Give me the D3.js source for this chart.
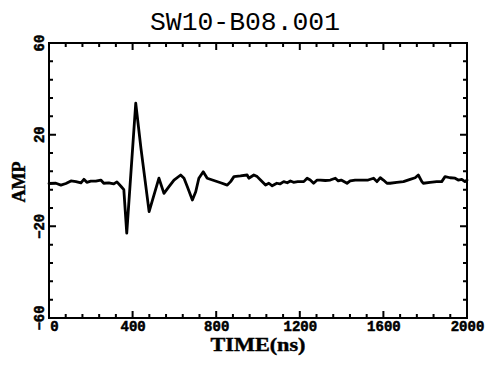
<!DOCTYPE html>
<html>
<head>
<meta charset="utf-8">
<script src="https://cdn.jsdelivr.net/npm/d3@7/dist/d3.min.js"></script>
<style>
  html, body { margin: 0; padding: 0; background: #fff; }
  svg { display: block; }
</style>
</head>
<body>
<svg id="chart" width="489" height="365" xmlns="http://www.w3.org/2000/svg"></svg>
<script>
// ---- data ----
const titleText = "SW10-B08.001";
const xLabel = "TIME(ns)";
const yLabel = "AMP";
const xMajorTicks = [0, 400, 800, 1200, 1600, 2000];
const yMajorTicks = [-60, -20, 20, 60];
const timeNs = [0, 33, 57, 81, 105, 129, 153, 167, 181, 200, 224, 248, 262, 286, 310, 325, 344, 358,
  372, 415, 440, 479, 526, 550, 574, 598, 630, 646, 662, 686, 702, 717, 738, 757, 789, 821, 853, 869,
  885, 916, 948, 956, 980, 996, 1012, 1036, 1052, 1068, 1090, 1105, 1123, 1140, 1155, 1170, 1190,
  1219, 1235, 1250, 1266, 1283, 1298, 1322, 1346, 1370, 1384, 1398, 1426, 1441, 1465, 1489, 1513,
  1527, 1553, 1569, 1585, 1600, 1617, 1632, 1664, 1696, 1728, 1752, 1767, 1784, 1791, 1823, 1855,
  1879, 1895, 1919, 1943, 1958, 1975, 1990, 2000];
const amplitude = [-1.3, -1.2, -2.0, -1.3, -0.2, -0.5, -1.0, 0.5, -0.8, -0.3, -0.3, 0.2, -1.2, -1.0, -1.5, -0.6, -2.5, -4.0,
  -23.0, 33.7, 14.0, -13.6, 1.0, -5.6, -2.7, 0.2, 2.4, 1.0, -2.7, -8.5, -4.9, 1.0, 3.8, 1.0, 0.0, -1.0, -2.0, -0.5,
  1.7, 2.0, 2.4, 1.0, 2.4, 1.7, 0.2, -2.0, -1.2, -2.3, -1.2, -1.5, -0.5, -1.0, -0.2, -0.8, -0.5,
  -0.5, 1.0, 0.2, -1.2, 0.2, 0.2, 0.0, 0.2, 1.0, -0.2, 0.2, -1.2, -0.2, 0.2, 0.2, 0.2,
  0.2, 1.0, -0.5, 1.2, 0.2, -1.2, -1.2, -0.8, -0.5, 0.5, 1.2, 2.4, -0.5, -1.2, -0.8, -0.5,
  -0.5, 1.7, 1.2, 1.0, 0.2, 0.5, -0.5, 0.2];

const xDomain = [0, 2000];
const yDomain = [-60, 60];
const xMinorStep = 80;
const yMinorStep = 8;

// ---- layout ----
const mLeft = 49, mRight = 467, mTop = 43, mBottom = 318;
const svg = d3.select("#chart");

const x = d3.scaleLinear().domain(xDomain).range([mLeft, mRight]);
const y = d3.scaleLinear().domain(yDomain).range([mBottom, mTop]);

const xMinor = d3.range(xDomain[0], xDomain[1] + 1, xMinorStep);
const yMinor = d3.range(yDomain[0], yDomain[1] + 0.001, yMinorStep);

const tickFont = "'Liberation Mono', 'DejaVu Sans Mono', monospace";
const minorLen = 4, majorLen = 7;
const isMajorX = d => xMajorTicks.includes(d);
const isMajorY = d => yMajorTicks.includes(d);

// tick marks on all four sides (inward)
function tickPath(list, fn) { return list.map(fn).join(" "); }
svg.append("path")
  .attr("fill", "none").attr("stroke", "#000").attr("stroke-width", 2)
  .attr("d", [
    tickPath(xMinor, d => `M${x(d)},${mBottom}V${mBottom - (isMajorX(d) ? majorLen : minorLen)}`),
    tickPath(xMinor, d => `M${x(d)},${mTop}V${mTop + (isMajorX(d) ? majorLen : minorLen)}`),
    tickPath(yMinor, d => `M${mLeft},${y(d)}H${mLeft + (isMajorY(d) ? majorLen : minorLen)}`),
    tickPath(yMinor, d => `M${mRight},${y(d)}H${mRight - (isMajorY(d) ? majorLen : minorLen)}`)
  ].join(" "));

// x tick labels via d3 axis
const bx = svg.append("g").attr("transform", `translate(0,${mBottom})`)
  .call(d3.axisBottom(x).tickValues(xMajorTicks).tickSize(0).tickPadding(3).tickFormat(d3.format("d")));
bx.select(".domain").remove();
bx.selectAll("text")
  .attr("font-family", tickFont).attr("font-weight", "bold").attr("font-size", 14).attr("fill", "#000")
  .attr("stroke", "#000").attr("stroke-width", 0.5)
  .attr("dx", d => d === 0 ? 5 : 0);

// y tick labels (rotated)
svg.append("g").selectAll("text").data(yMajorTicks).join("text")
  .attr("transform", d => `translate(44,${y(d)}) rotate(-90)`)
  .attr("text-anchor", "middle")
  .attr("font-family", tickFont).attr("font-weight", "bold").attr("font-size", 14)
  .attr("fill", "#000").attr("stroke", "#000").attr("stroke-width", 0.5)
  .text(d => d < 0 ? "\u2212" + Math.abs(d) : String(d));

// frame
svg.append("rect")
  .attr("x", mLeft).attr("y", mTop)
  .attr("width", mRight - mLeft).attr("height", mBottom - mTop)
  .attr("fill", "none").attr("stroke", "#000").attr("stroke-width", 2);

// waveform
const pts = timeNs.map((t, i) => [t, amplitude[i]]);
svg.append("path")
  .datum(pts)
  .attr("fill", "none")
  .attr("stroke", "#000")
  .attr("stroke-width", 2.8)
  .attr("stroke-linejoin", "round")
  .attr("stroke-linecap", "round")
  .attr("d", d3.line().x(d => x(d[0])).y(d => y(d[1])));

// title
svg.append("text")
  .attr("x", 245).attr("y", 30)
  .attr("text-anchor", "middle")
  .attr("font-family", tickFont)
  .attr("font-size", 25)
  .attr("textLength", 190).attr("lengthAdjust", "spacingAndGlyphs")
  .attr("fill", "#000")
  .text(titleText);

// axis labels
svg.append("text")
  .attr("x", 258).attr("y", 351)
  .attr("text-anchor", "middle")
  .attr("font-family", "'Liberation Serif', 'DejaVu Serif', serif")
  .attr("font-weight", "bold").attr("font-size", 18)
  .attr("textLength", 95).attr("lengthAdjust", "spacingAndGlyphs")
  .attr("fill", "#000").attr("stroke", "#000").attr("stroke-width", 0.4)
  .text(xLabel);

svg.append("text")
  .attr("transform", "translate(25,182) rotate(-90)")
  .attr("text-anchor", "middle")
  .attr("font-family", "'Liberation Serif', 'DejaVu Serif', serif")
  .attr("font-weight", "bold").attr("font-size", 18)
  .attr("textLength", 41).attr("lengthAdjust", "spacingAndGlyphs")
  .attr("fill", "#000").attr("stroke", "#000").attr("stroke-width", 0.4)
  .text(yLabel);
</script>
</body>
</html>
